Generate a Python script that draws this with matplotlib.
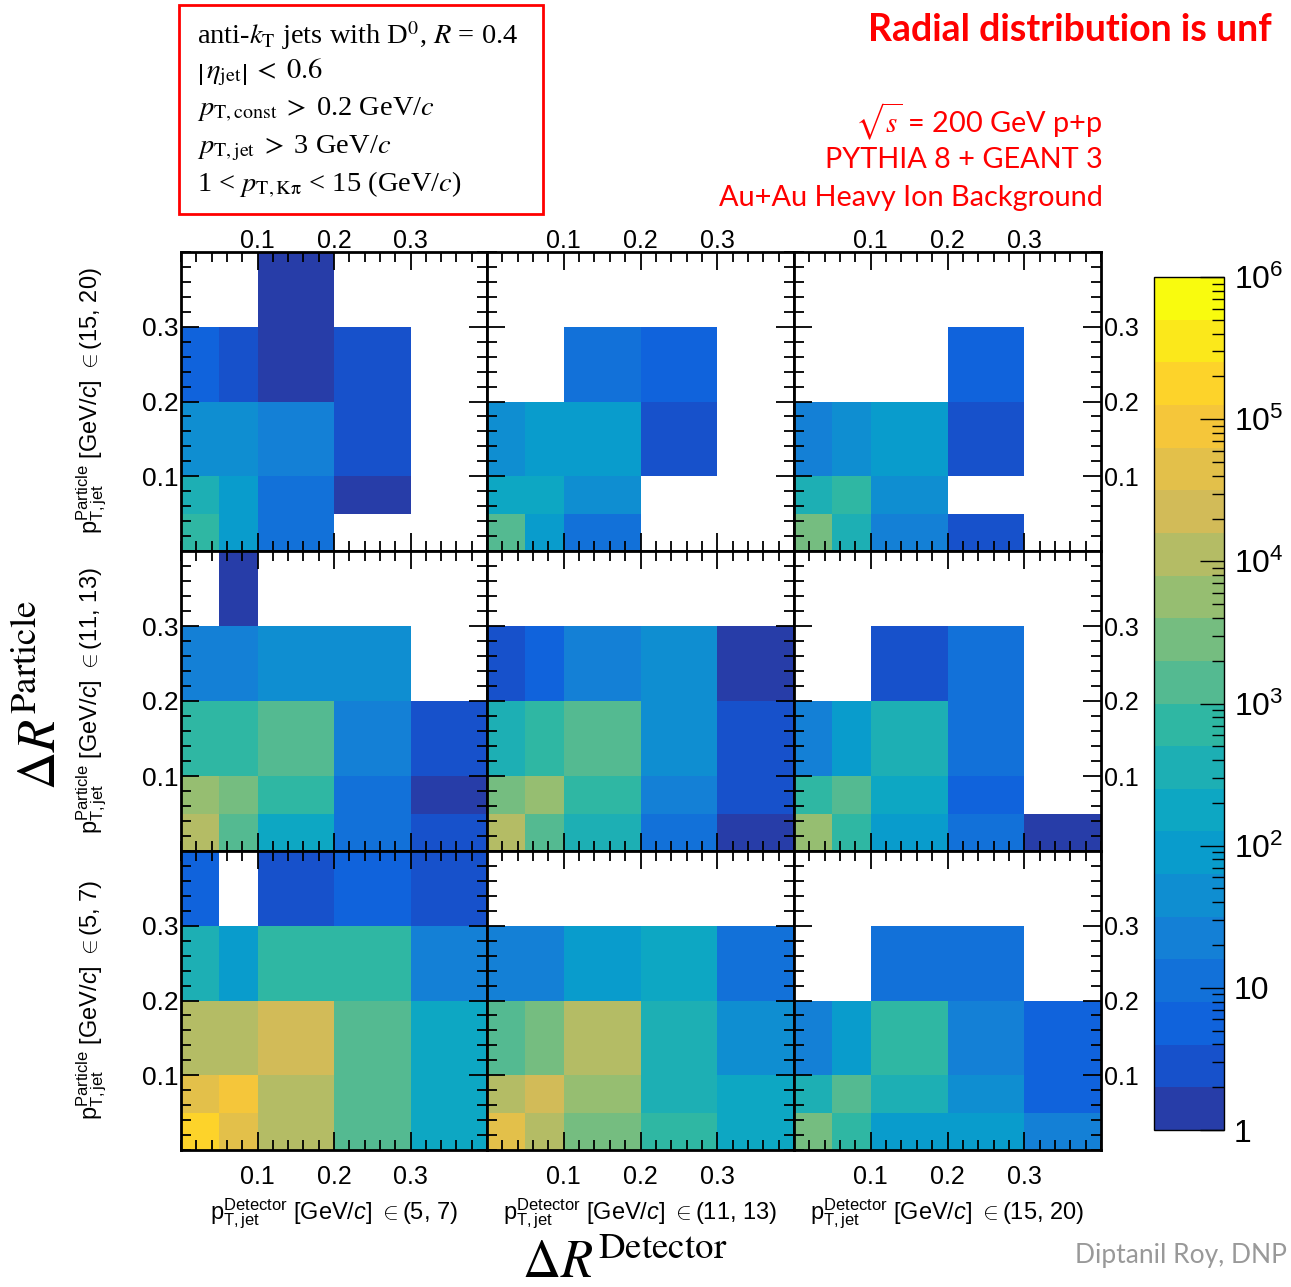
import numpy as np
import matplotlib
matplotlib.use('Agg')
import matplotlib.pyplot as plt
from matplotlib.colors import LinearSegmentedColormap, ListedColormap, LogNorm
from matplotlib.ticker import FixedLocator, MultipleLocator, NullFormatter, LogLocator
from matplotlib.patches import Rectangle

plt.rcParams['font.family'] = ['Liberation Sans', 'DejaVu Sans']
plt.rcParams['mathtext.fontset'] = 'custom'
plt.rcParams['mathtext.rm'] = 'Liberation Sans'
plt.rcParams['mathtext.it'] = 'Liberation Sans:italic'
plt.rcParams['mathtext.bf'] = 'Liberation Sans:bold'

# dR bin edges, same for detector and particle level
dr_edges = [0.0, 0.05, 0.1, 0.2, 0.3, 0.4]

# jet pT bins: columns = detector level, rows (top -> bottom) = particle level
det_pt = ['(5, 7)', '(11, 13)', '(15, 20)']
part_pt = ['(15, 20)', '(11, 13)', '(5, 7)']

# counts, rows = particle dR bin (low -> high), columns = detector dR bin
# particle (15,20)
p15_d5 = [[700, 90, 11, 0, 0],
          [350, 90, 11, 1, 0],
          [45, 45, 22, 3, 0],
          [6, 3, 1, 3, 0],
          [0, 0, 1, 0, 0]]
p15_d11 = [[1400, 90, 11, 0, 0],
           [180, 180, 45, 0, 0],
           [45, 90, 90, 3, 0],
           [0, 0, 11, 6, 0],
           [0, 0, 0, 0, 0]]
p15_d15 = [[2800, 350, 22, 3, 0],
           [350, 700, 45, 0, 0],
           [22, 45, 90, 3, 0],
           [0, 0, 0, 6, 0],
           [0, 0, 0, 0, 0]]
# particle (11,13)
p11_d5 = [[11000, 1400, 180, 11, 3],
          [5600, 2800, 700, 11, 1],
          [700, 700, 1400, 22, 3],
          [22, 22, 45, 45, 0],
          [0, 1, 0, 0, 0]]
p11_d11 = [[11000, 1400, 350, 11, 1],
           [2800, 5600, 700, 22, 3],
           [350, 700, 1400, 45, 3],
           [3, 6, 22, 45, 1],
           [0, 0, 0, 0, 0]]
p11_d15 = [[5600, 700, 90, 11, 1],
           [700, 1400, 180, 6, 0],
           [22, 90, 350, 11, 0],
           [0, 0, 3, 11, 0],
           [0, 0, 0, 0, 0]]
# particle (5,7)
p5_d5 = [[180000, 45000, 11000, 1400, 180],
         [45000, 90000, 11000, 1400, 180],
         [11000, 11000, 22000, 1400, 180],
         [350, 90, 700, 700, 22],
         [6, 0, 3, 6, 3]]
p5_d11 = [[45000, 11000, 2800, 700, 180],
          [11000, 22000, 5600, 350, 180],
          [1400, 2800, 11000, 350, 45],
          [22, 22, 90, 180, 11],
          [0, 0, 0, 0, 0]]
p5_d15 = [[2800, 700, 90, 90, 22],
          [350, 1400, 350, 45, 6],
          [22, 90, 700, 22, 6],
          [0, 0, 11, 11, 0],
          [0, 0, 0, 0, 0]]

grid = [[p15_d5, p15_d11, p15_d15],
        [p11_d5, p11_d11, p11_d15],
        [p5_d5, p5_d11, p5_d15]]

# ROOT kBird palette, 20 contour levels
bird_r = [0.2082, 0.0592, 0.0780, 0.0232, 0.1802, 0.5301, 0.8186, 0.9956, 0.9764]
bird_g = [0.1664, 0.3599, 0.5041, 0.6419, 0.7178, 0.7492, 0.7328, 0.7862, 0.9832]
bird_b = [0.5293, 0.8684, 0.8385, 0.7914, 0.6425, 0.4662, 0.3499, 0.1968, 0.0539]
stops = np.linspace(0, 1, 9)
bird = LinearSegmentedColormap.from_list('bird', list(zip(stops, zip(bird_r, bird_g, bird_b))))
nlev = 20
levels = [bird(np.floor((i + 0.99) * 255 / nlev) / 254) for i in range(nlev)]
cmap = ListedColormap(levels)
cmap.set_bad('white')
norm = LogNorm(vmin=1, vmax=1e6)

W, H = 1291, 1287
fig = plt.figure(figsize=(W / 100, H / 100), dpi=100)

x_edges = [181, 487, 794, 1101]
y_edges = [252, 551, 851, 1150]

for r in range(3):
    for c in range(3):
        x0, x1 = x_edges[c], x_edges[c + 1]
        y0, y1 = y_edges[r], y_edges[r + 1]
        ax = fig.add_axes([x0 / W, 1 - y1 / H, (x1 - x0) / W, (y1 - y0) / H])
        z = np.ma.masked_less_equal(np.array(grid[r][c], dtype=float), 0)
        ax.pcolormesh(dr_edges, dr_edges, z, cmap=cmap, norm=norm)
        ax.set_xlim(0, 0.4)
        ax.set_ylim(0, 0.4)
        for s in ax.spines.values():
            s.set_linewidth(2)
        ax.xaxis.set_major_locator(FixedLocator([0.1, 0.2, 0.3]))
        ax.yaxis.set_major_locator(FixedLocator([0.1, 0.2, 0.3]))
        ax.xaxis.set_minor_locator(MultipleLocator(0.02))
        ax.yaxis.set_minor_locator(MultipleLocator(0.02))
        ax.tick_params(which='both', direction='in', top=True, right=True,
                       labeltop=(r == 0), labelbottom=(r == 2),
                       labelleft=(c == 0), labelright=(c == 2), width=1.3)
        ax.tick_params(which='major', length=13)
        ax.tick_params(which='minor', length=7)
        ax.tick_params(axis='x', which='major', labelsize=18)
        ax.tick_params(axis='x', which='major', pad=11 if r == 2 else -1)
        ax.tick_params(axis='y', which='major', labelsize=19 if c == 0 else 18, pad=2)
        ax.set_xticklabels(['0.1', '0.2', '0.3'])
        ax.set_yticklabels(['0.1', '0.2', '0.3'])

# per-row / per-column pT labels
row_centers = [401, 701, 1000]
for r in range(3):
    fig.text(92 / W, 1 - row_centers[r] / H,
             r'$\mathrm{p^{Particle}_{T,jet}}$ [GeV/$\mathit{c}$] $\in$(' + part_pt[r][1:],
             rotation=90, ha='center', va='center', fontsize=17)
col_centers = [334, 640, 947]
for c in range(3):
    fig.text(col_centers[c] / W, 1 - 1214 / H,
             r'$\mathrm{p^{Detector}_{T,jet}}$ [GeV/$\mathit{c}$] $\in$(' + det_pt[c][1:],
             ha='center', va='center', fontsize=17)

fig.text(42 / W, 1 - 695 / H, r'$\Delta R^{\mathrm{Particle}}$', rotation=90,
         ha='center', va='center', fontsize=38, math_fontfamily='stix')
fig.text(625 / W, 1 - 1264 / H, r'$\Delta R^{\mathrm{Detector}}$',
         ha='center', va='center', fontsize=38, math_fontfamily='stix')

# colour bar
cax = fig.add_axes([1154 / W, 1 - 1130 / H, 70 / W, 853 / H])
sm = plt.cm.ScalarMappable(cmap=cmap, norm=norm)
cb = fig.colorbar(sm, cax=cax)
cb.outline.set_linewidth(1)
cax.yaxis.set_major_locator(FixedLocator([1, 10, 100, 1e3, 1e4, 1e5, 1e6]))
cax.set_yticklabels(['1', '10', r'10$^{2}$', r'10$^{3}$', r'10$^{4}$', r'10$^{5}$', r'10$^{6}$'])
cax.yaxis.set_minor_locator(LogLocator(base=10, subs=np.arange(2, 10), numticks=20))
cax.yaxis.set_minor_formatter(NullFormatter())
cax.tick_params(which='both', direction='in', right=True, left=False, width=1, labelsize=23, pad=7)
cax.tick_params(which='major', length=17)
cax.tick_params(which='minor', length=9)

# selection box
fig.add_artist(Rectangle((179 / W, 1 - 214 / H), 364 / W, 209 / H, transform=fig.transFigure,
                         fill=False, edgecolor='#ff0000', lw=2))
box_lines = [r'anti-$k_{\mathrm{T}}$ jets with D$^{0}$, $R$ = 0.4',
             r'$\left|\,\eta_{\mathrm{jet}}\right|\;<\;0.6$',
             r'$p_{\mathrm{T,const}}\;>\;$0.2 GeV/$c$',
             r'$p_{\mathrm{T,jet}}\;>\;$3 GeV/$c$',
             r'1 < $p_{\mathrm{T,K\pi}}$ < 15 (GeV/$c$)']
box_y = [36, 72, 110, 148, 185]
for t, yy in zip(box_lines, box_y):
    fig.text(197 / W, 1 - yy / H, t, ha='left', va='center', fontsize=20.5,
             family='Liberation Serif', math_fontfamily='stix')

# red annotations
fig.text(868 / W, 1 - 30 / H, 'Radial distribution is unf', ha='left', va='center',
         fontsize=27, fontweight='bold', color='#ff0000', family='Lato')
red_lines = [r'$\sqrt{s}$ = 200 GeV p+p', 'PYTHIA 8 + GEANT 3', 'Au+Au Heavy Ion Background']
red_y = [121, 160, 198]
for t, yy in zip(red_lines, red_y):
    fig.text(1103 / W, 1 - yy / H, t, ha='right', va='center', fontsize=20.8,
             color='#ff0000', family='Lato', math_fontfamily='stix')

fig.text(1075 / W, 1 - 1256 / H, 'Diptanil Roy, DNP', ha='left', va='center',
         fontsize=19, color='#999999', family='Lato')

fig.savefig('out.png', dpi=100)
